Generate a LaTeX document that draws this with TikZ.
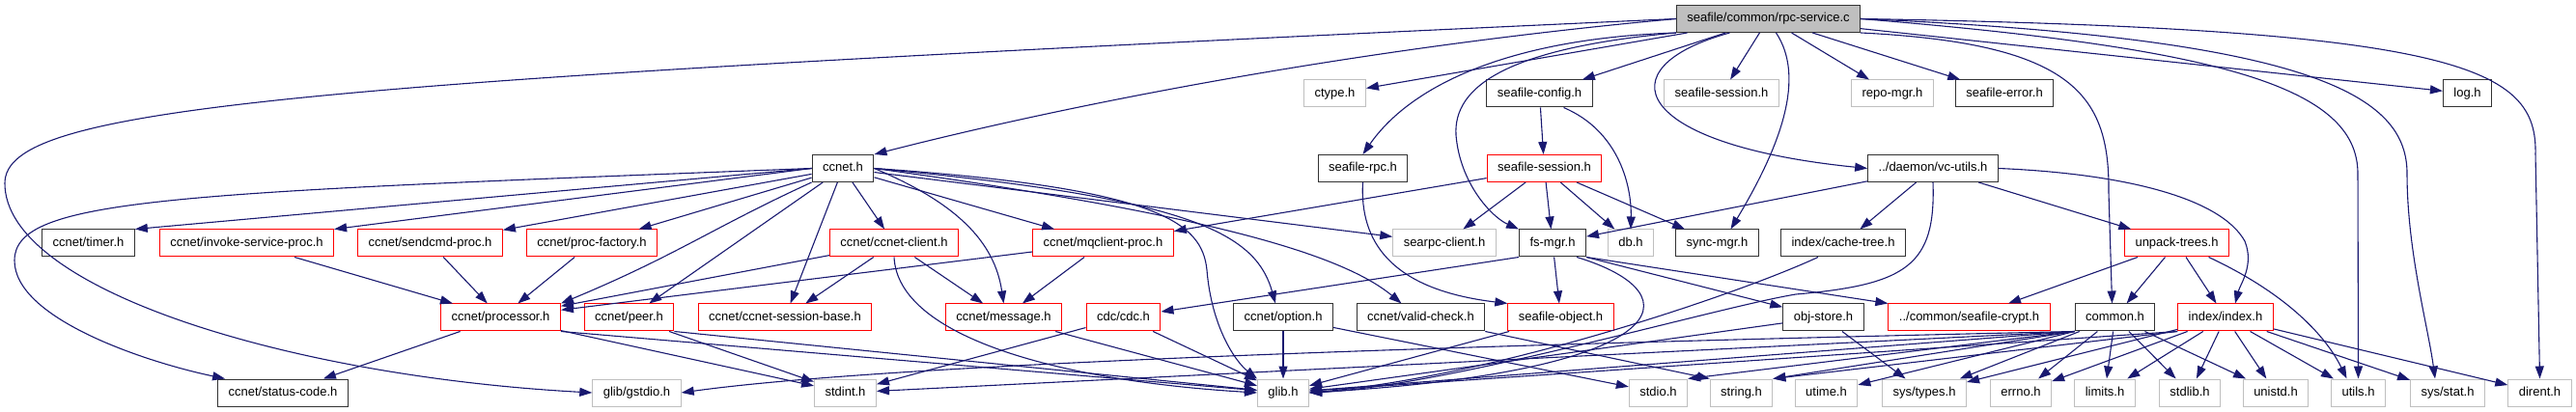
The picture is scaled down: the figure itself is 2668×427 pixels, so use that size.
\documentclass[tikz,border=0pt]{standalone}
\usepackage{fontspec}
\setmainfont{Liberation Sans}
\usepackage{tikz}
\usetikzlibrary{arrows.meta}
\definecolor{edgeBlue}{HTML}{191970}
\definecolor{sysGray}{HTML}{BFBFBF}
\definecolor{truncRed}{HTML}{FF0000}
\definecolor{rootFill}{HTML}{BFBFBF}

\begin{document}
\begin{tikzpicture}[
    x=1pt,y=-1pt,
    >={Triangle[length=13pt,width=9pt]},
    every node/.style={font=\fontsize{13}{15}\selectfont},
    hdr/.style={rectangle,draw=black!80,fill=white,line width=1pt,
                minimum height=28pt,inner xsep=11pt,inner ysep=0pt,
                text height=9.5pt,text depth=2.5pt},
    trunc/.style={hdr,draw=truncRed},
    sys/.style={hdr,draw=sysGray},
    curr/.style={hdr,fill=rootFill},
    dep/.style={->,line width=1.1pt,edgeBlue}
  ]
  \useasboundingbox (0,0) rectangle (2668,427);
  %% file being documented
  \node[curr] (root) at (1831.5,19.5) {seafile/common/rpc-service.c};
  %% row 1
  \node[sys]   (ctype)    at (1382.5,97) {ctype.h};
  \node[hdr]   (seacfg)   at (1594.5,97) {seafile-config.h};
  \node[sys]   (seasessg) at (1783,97)   {seafile-session.h};
  \node[sys]   (repomgr)  at (1960,97)   {repo-mgr.h};
  \node[hdr]   (seaerr)   at (2076,97)   {seafile-error.h};
  \node[hdr]   (logh)     at (2555.5,97) {log.h};
  %% row 2
  \node[hdr]   (ccnet)    at (873,174.5)    {ccnet.h};
  \node[hdr]   (searpch)  at (1411.5,174.5) {seafile-rpc.h};
  \node[trunc] (seasess)  at (1599.5,174.5) {seafile-session.h};
  \node[hdr]   (vcutils)  at (2002,174.5)   {../daemon/vc-utils.h};
  %% row 3
  \node[hdr]   (timer)     at (91.5,252)   {ccnet/timer.h};
  \node[trunc] (invoke)    at (255.5,252)  {ccnet/invoke-service-proc.h};
  \node[trunc] (sendcmd)   at (445.5,252)  {ccnet/sendcmd-proc.h};
  \node[trunc] (procfac)   at (613,252)    {ccnet/proc-factory.h};
  \node[trunc] (cclient)   at (926,252)    {ccnet/ccnet-client.h};
  \node[trunc] (mqclient)  at (1142.5,252) {ccnet/mqclient-proc.h};
  \node[sys]   (searpcc)   at (1496,252)   {searpc-client.h};
  \node[hdr]   (fsmgr)     at (1608,252)   {fs-mgr.h};
  \node[sys]   (dbh)       at (1689,252)   {db.h};
  \node[hdr]   (syncmgr)   at (1778.5,252) {sync-mgr.h};
  \node[hdr]   (cachetree) at (1909,252)   {index/cache-tree.h};
  \node[trunc] (unpack)    at (2254.5,252) {unpack-trees.h};
  %% row 4
  \node[trunc] (processor) at (518.5,329)  {ccnet/processor.h};
  \node[trunc] (peer)      at (651.5,329)  {ccnet/peer.h};
  \node[trunc] (sessbase)  at (813,329)    {ccnet/ccnet-session-base.h};
  \node[trunc] (message)   at (1039.5,329) {ccnet/message.h};
  \node[trunc] (cdc)       at (1163.5,329) {cdc/cdc.h};
  \node[hdr]   (option)    at (1329,329)   {ccnet/option.h};
  \node[hdr]   (validchk)  at (1471.5,329) {ccnet/valid-check.h};
  \node[trunc] (seaobj)    at (1616.5,329) {seafile-object.h};
  \node[hdr]   (objstore)  at (1888.5,329) {obj-store.h};
  \node[trunc] (crypt)     at (2039.5,329) {../common/seafile-crypt.h};
  \node[hdr]   (common)    at (2190.5,329) {common.h};
  \node[trunc] (index)     at (2305,329)   {index/index.h};
  %% row 5
  \node[hdr] (status)   at (293,407)    {ccnet/status-code.h};
  \node[sys] (gstdio)   at (659.5,407)  {glib/gstdio.h};
  \node[sys] (stdint)   at (875.5,407)  {stdint.h};
  \node[sys] (glib)     at (1329,407)   {glib.h};
  \node[sys] (stdio)    at (1717.5,407) {stdio.h};
  \node[sys] (string)   at (1803.5,407) {string.h};
  \node[sys] (utime)    at (1891.5,407) {utime.h};
  \node[sys] (systypes) at (1993,407)   {sys/types.h};
  \node[sys] (errno)    at (2093,407)   {errno.h};
  \node[sys] (limits)   at (2180,407)   {limits.h};
  \node[sys] (stdlib)   at (2268,407)   {stdlib.h};
  \node[sys] (unistd)   at (2357,407)   {unistd.h};
  \node[sys] (utils)    at (2442.5,407) {utils.h};
  \node[sys] (sysstat)  at (2535,407)   {sys/stat.h};
  \node[sys] (dirent)   at (2630.5,407) {dirent.h};
  %% straight includes
  \foreach \a/\b in {root/ctype, root/seacfg, root/seasessg, root/repomgr,
      root/seaerr, root/logh,
      ccnet.west/timer.north east, ccnet.west/invoke.north east, ccnet/sendcmd,
      ccnet/procfac, ccnet/peer, ccnet/sessbase, ccnet/cclient, ccnet/mqclient, ccnet/searpcc,
      seacfg/seasess, seasess/searpcc, seasess/fsmgr, seasess/dbh, seasess/syncmgr,
      seasess/mqclient, vcutils/fsmgr, vcutils/cachetree, vcutils/unpack,
      invoke/processor, sendcmd/processor, procfac/processor, cclient/processor,
      cclient/sessbase, cclient/message, mqclient/processor, mqclient/message,
      processor/status, processor/stdint, processor.south east/glib, peer/stdint,
      peer.south east/glib, message/glib, cdc/stdint, cdc/glib, option/glib, option/stdio,
      validchk.south east/string.north west, seaobj/glib,
      fsmgr.south west/cdc, fsmgr/seaobj, fsmgr.south east/objstore,
      fsmgr.south east/crypt.north west, objstore/glib, objstore/systypes,
      unpack/crypt, unpack/common, unpack/index,
      common.south west/glib, common.south west/stdint, common.south west/stdio.north east,
      common.south west/string.north east, common.south west/utime, common/systypes,
      common/errno, common/limits, common/stdlib, common/unistd,
      index.south west/glib, index.south west/string.north east, index/errno,
      index/systypes, index/limits, index/stdlib, index/unistd, index/utils,
      index/sysstat, index/dirent}
    \draw[dep] (\a) -- (\b);
  %% curved includes
  \draw[dep] (root.west) .. controls (1400,50) and (1100,110) .. (ccnet.north east);
  \draw[dep] (root.west) .. controls (300,85) and (5,110) .. (5,190)
             .. controls (5,300) and (300,390) .. (gstdio.west);
  \draw[dep] (ccnet.west) .. controls (180,200) and (15,205) .. (15,270)
             .. controls (15,330) and (150,375) .. ([xshift=8pt]status.north west);
  \draw[dep] (ccnet.south west) .. controls (740,235) and (700,265) .. (processor.north east);
  \draw[dep] (ccnet.east) .. controls (990,210) and (1030,250) .. (message.north);
  \draw[dep] (ccnet.east) .. controls (1230,205) and (1300,240) .. ([xshift=-8pt]option.north);
  \draw[dep] (ccnet.east) .. controls (1200,195) and (1245,230) .. (1250,280)
             .. controls (1255,340) and (1280,375) .. (glib.north west);
  \draw[dep] (ccnet.east) .. controls (1200,215) and (1380,255) .. ([xshift=-20pt]validchk.north);
  \draw[dep] (root.south west) .. controls (1560,40) and (1460,90) .. (searpch.north);
  \draw[dep] (root.south west) .. controls (1560,50) and (1505,90) .. (1508,140)
             .. controls (1512,190) and (1545,225) .. (fsmgr.north west);
  \draw[dep] ([xshift=8pt]root.south) .. controls (1870,80) and (1845,150) .. ([xshift=14pt]syncmgr.north);
  \draw[dep] ([xshift=-40pt]root.south) .. controls (1660,70) and (1690,150) .. (vcutils.west);
  \draw[dep] (root.south east) .. controls (2150,45) and (2185,100) .. (2184,200)
             -- ([xshift=-3pt]common.north);
  \draw[dep] (root.east) .. controls (2300,50) and (2442,90) .. (2442,180) -- (utils.north);
  \draw[dep] (root.east) .. controls (2400,40) and (2493,100) .. (2493,180)
             .. controls (2493,260) and (2515,340) .. ([xshift=-13pt]sysstat.north);
  \draw[dep] (root.east) .. controls (2550,30) and (2628,70) .. (2626,160) -- (dirent.north);
  \draw[dep] ([xshift=25pt]seacfg.south) .. controls (1675,135) and (1690,190) .. (dbh.north);
  \draw[dep] (searpch.south) .. controls (1408,250) and (1440,300) .. (seaobj.north west);
  \draw[dep] (vcutils.south) .. controls (2005,275) and (1975,295) .. (1860,305)
             .. controls (1780,318) and (1500,400) .. (glib.east);
  \draw[dep] ([xshift=-26pt]cachetree.south) .. controls (1800,305) and (1550,390) .. (glib.east);
  \draw[dep] ([xshift=25pt]fsmgr.south) .. controls (1760,305) and (1735,385) .. (glib.east);
  \draw[dep] (vcutils.east) .. controls (2200,180) and (2300,205) .. (2325,250)
             .. controls (2335,275) and (2320,295) .. ([xshift=10pt]index.north);
  \draw[dep] ([xshift=33pt]unpack.south) .. controls (2370,305) and (2410,350) .. ([xshift=-12pt]utils.north);
  \draw[dep] (cclient.south) .. controls (930,350) and (1100,395) .. (glib.west);
  \draw[dep] (common.south west) .. controls (1400,360) and (900,380) .. (gstdio.east);
\end{tikzpicture}
\end{document}
